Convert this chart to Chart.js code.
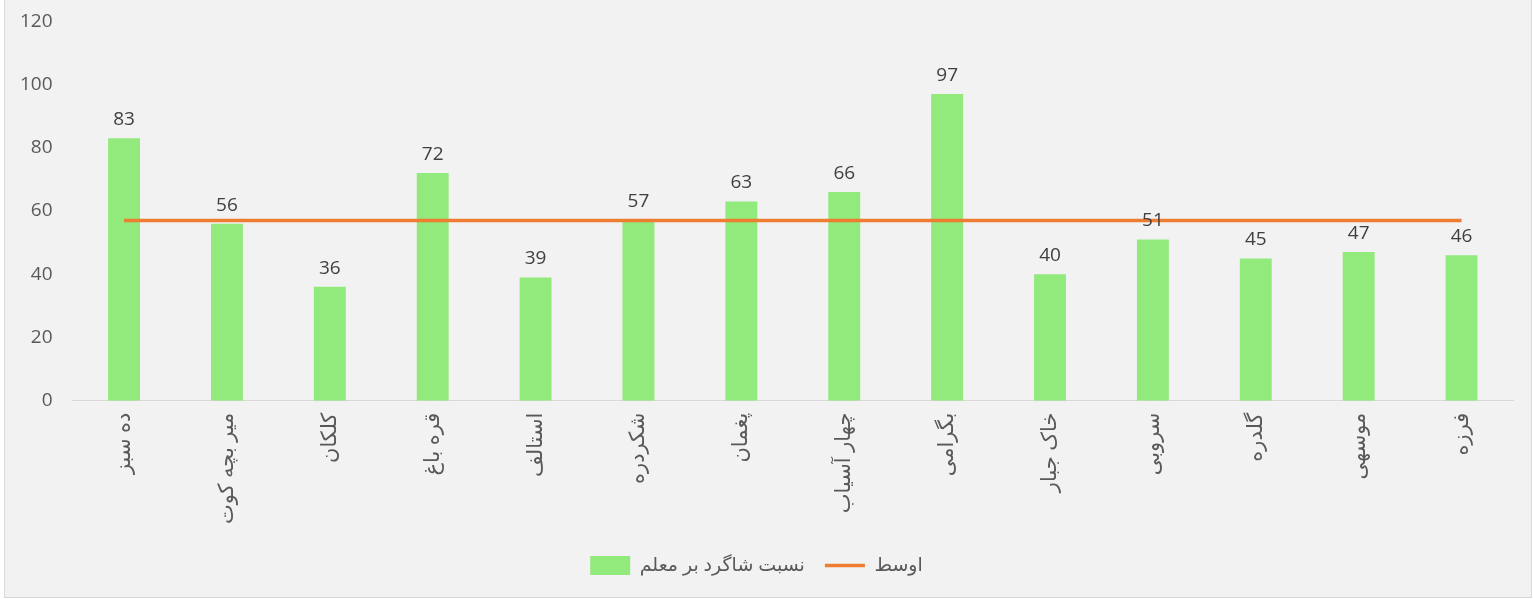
<!DOCTYPE html>
<html>
<head>
<meta charset="utf-8">
<script src="https://cdn.jsdelivr.net/npm/chart.js@4"></script>
<style>
  html, body { margin: 0; padding: 0; background: #ffffff; }
  .chart-box { position: absolute; left: 4px; top: -1px; width: 1526px; height: 597px; background: #f2f2f2; border: 1px solid #d9d9d9; overflow: hidden; }
  #ratioChart { position: absolute; left: 0; top: -10px; }
</style>
</head>
<body>
<div class="chart-box">
  <canvas id="ratioChart" style="width:1526px; height:617px;"></canvas>
</div>
<script type="text/javascript">
  var districts = ["ده سبز", "میر بچه کوت", "کلکان", "قره باغ", "استالف", "شکردره", "پغمان", "چهار آسیاب", "بگرامی", "خاک جبار", "سروبی", "گلدره", "موسهی", "فرزه"];
  var ratios = [83, 56, 36, 72, 39, 57, 63, 66, 97, 40, 51, 45, 47, 46];
  var average = [57, 57, 57, 57, 57, 57, 57, 57, 57, 57, 57, 57, 57, 57];
  var yTicks = [0, 20, 40, 60, 80, 100, 120];

  var fontFamily = "'Open Sans', 'DejaVu Sans', sans-serif";

  // draws the value above each bar
  var barValues = {
    id: "barValues",
    afterDatasetsDraw: function (chart) {
      var ctx = chart.ctx;
      var meta = chart.getDatasetMeta(0);
      ctx.save();
      ctx.fillStyle = "#404040";
      ctx.font = "19px " + fontFamily;
      ctx.textAlign = "center";
      ctx.textBaseline = "bottom";
      meta.data.forEach(function (bar, i) {
        ctx.fillText(ratios[i], bar.x, bar.y - 9);
      });
      ctx.restore();
    }
  };

  var chart = new Chart("ratioChart", {
    type: "bar",
    data: {
      labels: districts,
      datasets: [
        {
          label: "نسبت شاگرد بر معلم",
          data: ratios,
          backgroundColor: "#92e97c",
          borderWidth: 0,
          barPercentage: 0.31,
          categoryPercentage: 1,
          pointStyle: "rect",
          order: 2
        },
        {
          type: "line",
          label: "اوسط",
          data: average,
          borderColor: "#ed7d31",
          backgroundColor: "#ed7d31",
          borderWidth: 3.5,
          pointRadius: 0,
          pointStyle: "line",
          fill: false,
          order: 1
        }
      ]
    },
    options: {
      responsive: false,
      animation: false,
      layout: { padding: { left: -5, right: 18, top: 0, bottom: 22 } },
      plugins: {
        legend: {
          position: "bottom",
          labels: {
            usePointStyle: true,
            pointStyleWidth: 40,
            boxHeight: 19,
            padding: 20,
            color: "#595959",
            font: { family: fontFamily, size: 19 },
            sort: function (a, b) { return a.datasetIndex - b.datasetIndex; }
          }
        },
        tooltip: { enabled: false }
      },
      scales: {
        x: {
          grid: { display: false, drawTicks: false },
          border: { display: true, color: "#d9d9d9", width: 1 },
          ticks: {
            color: "#595959",
            font: { family: fontFamily, size: 21 },
            minRotation: 90,
            maxRotation: 90,
            autoSkip: false,
            padding: 12
          }
        },
        y: {
          min: 0,
          max: 120,
          grid: { display: false, drawTicks: false },
          border: { display: false },
          afterBuildTicks: function (axis) {
            axis.ticks = yTicks.map(function (v) { return { value: v }; });
          },
          ticks: {
            color: "#595959",
            font: { family: fontFamily, size: 19 },
            padding: 20
          }
        }
      }
    },
    plugins: [barValues]
  });
</script>
</body>
</html>
